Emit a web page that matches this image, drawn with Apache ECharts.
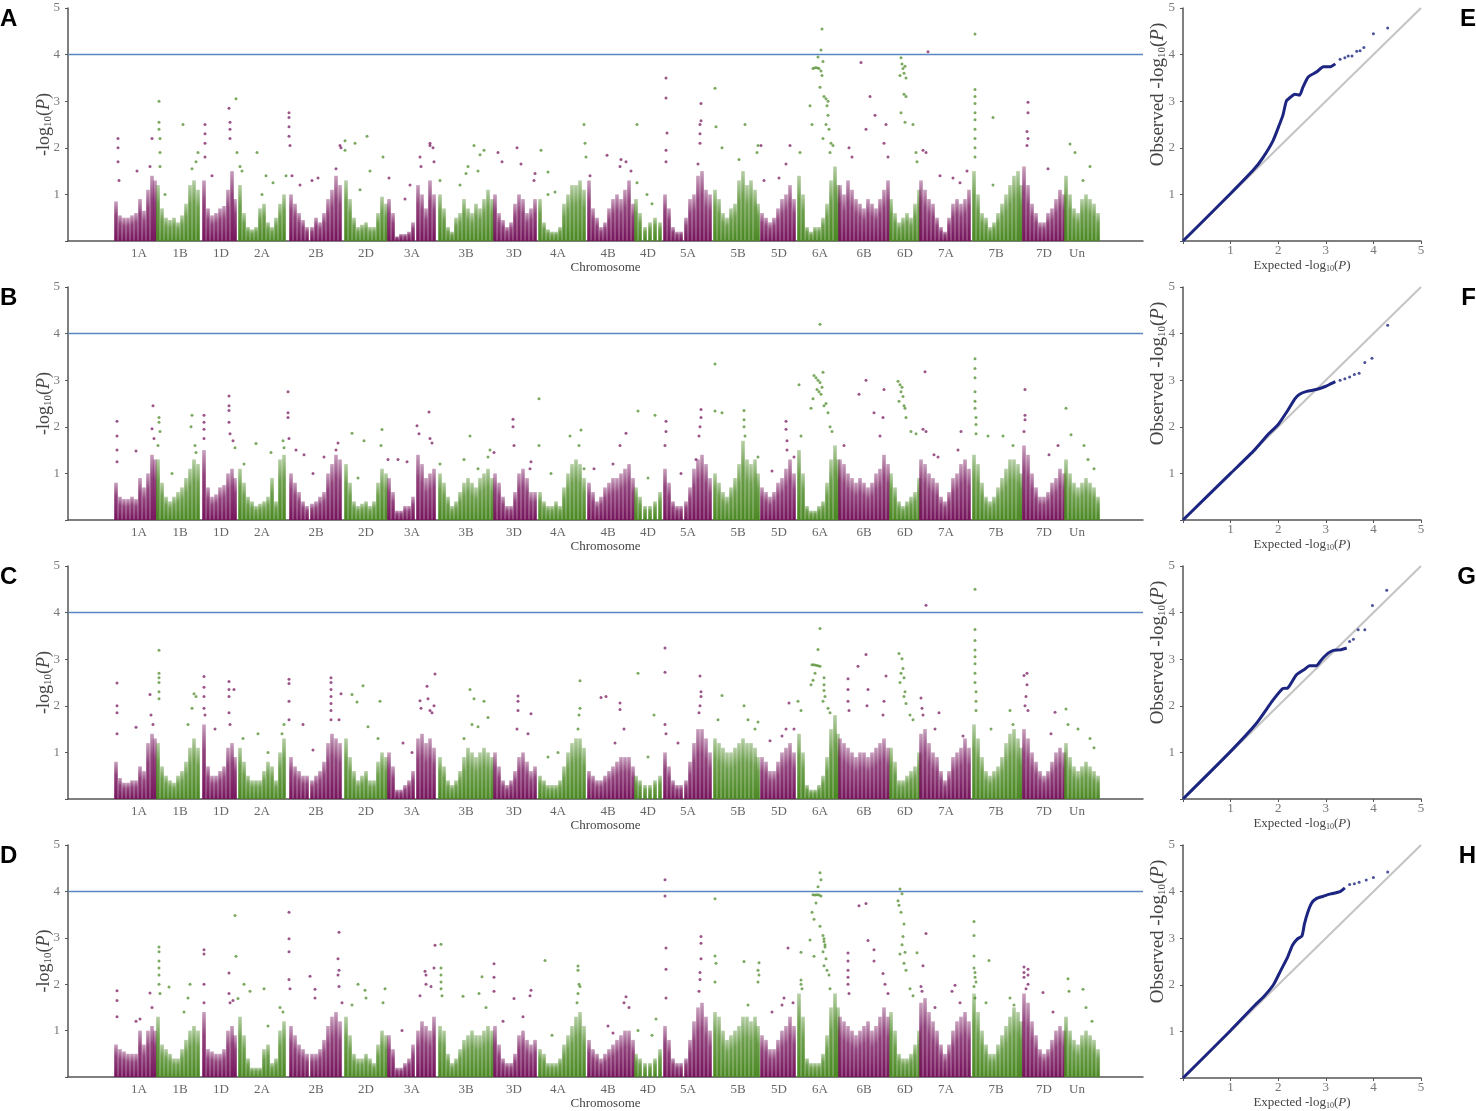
<!DOCTYPE html>
<html><head><meta charset="utf-8">
<script src="https://cdn.jsdelivr.net/npm/echarts@6/dist/echarts.min.js"></script>
<style>html,body{margin:0;padding:0;background:#fff}#c{width:1476px;height:1111px}</style>
</head><body><div id="c"></div>
<script>
// ---- chromosome axis ----
const chromLabels = ['1A','1B','1D','2A','2B','2D','3A','3B','3D','4A','4B','4D','5A','5B','5D','6A','6B','6D','7A','7B','7D','Un'];
const chromTickPos = [71,112,153,194,248,298,344,398,446,490,540,580,620,670,711,752,796,837,878,928,976,1009];
// start position of each coloured block (alternating purple / green)
const segStart = [46,87,132,167,220,275,319,369,425,469,519,567,595,645,692,729,770,822,852,905,955,997];
// centre positions of the dense-band bins in each block
const binX = [
 [48,52,56,60,64,68,72,76,80,84,87],
 [90,94,98,102,106,110,114,118,122,126,130],
 [136,140,144,148,152,156,160,164,167],
 [172,176,180,184,188,192,196,200,204,208,212,216],
 [223,227,231,235,239,244,248,252,256,260,264,268,272],
 [278,282,286,290,294,298,302,306,310,314,318],
 [321,325,329,333,337,341,345,350,354,358,362,366],
 [372,376,380,384,388,392,396,400,404,408,412,416,420,424],
 [427,431,435,439,443,447,451,455,459,463,467],
 [472,476,480,484,488,492,496,500,504,508,512,516],
 [521,525,529,533,537,541,545,549,553,557,561,565],
 [568,572,577,582,587,592],
 [597,601,605,609,613,618,622,626,630,634,638,642],
 [647,651,655,659,663,667,671,675,679,683,687,690],
 [694,698,702,706,710,714,718,722,726],
 [731,735,739,743,747,751,755,759,763,767,770],
 [772,776,780,784,788,792,796,800,804,808,812,816,820],
 [823,827,831,835,839,843,847,851],
 [853,857,861,865,869,873,877,881,885,889,893,897,901],
 [906,910,914,918,922,926,930,934,938,942,946,950,953],
 [956,960,964,968,972,976,980,984,988,992,996],
 [998,1002,1006,1010,1014,1018,1022,1026,1030]
];

// ---- panel A ----
const massA = [
 [0.85,0.55,0.5,0.5,0.55,0.6,0.9,0.65,1.1,1.4,1.3],
 [1.2,0.7,0.5,0.45,0.5,0.4,0.55,0.8,1.2,1.3,1.1],
 [1.3,0.7,0.55,0.6,0.7,0.75,1.1,1.5,0.9],
 [1.2,0.6,0.3,0.25,0.3,0.7,0.8,0.4,0.3,0.5,0.8,1.0],
 [1.0,0.8,0.6,0.45,0.3,0.3,0.5,0.4,0.6,0.9,1.1,1.4,1.2],
 [1.3,0.9,0.5,0.3,0.35,0.4,0.3,0.3,0.6,0.95,0.8],
 [0.9,0.6,0.1,0.15,0.15,0.2,0.4,1.2,1.0,0.7,1.3,1.0],
 [1.0,0.7,0.3,0.2,0.5,0.6,0.9,0.7,0.6,0.8,0.7,0.9,1.1,0.9],
 [1.0,0.6,0.45,0.3,0.4,0.8,1.0,0.9,0.6,0.7,0.9],
 [0.9,0.4,0.25,0.2,0.2,0.3,0.8,1.0,1.2,1.2,1.3,1.1],
 [1.3,0.7,0.5,0.3,0.4,0.7,0.9,1.0,0.9,1.1,1.3,0.8],
 [0.9,0.6,0.3,0.4,0.5,0.4],
 [1.0,0.7,0.3,0.2,0.2,0.5,0.9,1.0,1.4,1.5,1.1,1.0],
 [1.1,0.9,0.6,0.5,0.7,0.8,1.3,1.5,1.2,1.3,1.1,0.8],
 [0.6,0.5,0.4,0.5,0.7,0.9,1.0,1.2,0.9],
 [1.4,1.0,0.3,0.2,0.3,0.3,0.5,0.8,1.3,1.6,1.2],
 [1.2,1.0,1.3,1.1,0.9,0.8,0.7,0.9,0.8,0.7,0.9,1.1,1.3],
 [0.9,0.6,0.4,0.5,0.6,0.5,0.8,1.1],
 [1.3,1.1,0.9,0.8,0.5,0.3,0.2,0.5,0.8,0.9,0.8,0.9,1.1],
 [1.5,1.0,0.6,0.5,0.3,0.4,0.6,0.8,1.0,1.2,1.4,1.5,1.2],
 [1.6,1.2,0.8,0.6,0.4,0.4,0.6,0.7,0.9,1.1,1.0],
 [1.4,1.0,0.7,0.6,0.9,1.0,0.9,0.8,0.6]
];
const peaksA = [
 [50,2.2],[50,2.0],[50,1.7],[51,1.3],[69,1.5],[84,2.2],[82,1.6],
 [91,3.0],[91,2.55],[91,2.4],[92,2.2],[92,1.9],[92,1.6],[115,2.5],[130,1.9],[128,1.7],[124,1.55],[97,1.0],
 [137,2.5],[137,2.3],[137,2.1],[137,1.8],[162,2.55],[162,2.4],[162,2.2],[161,2.85],[168,3.05],[169,1.9],[144,1.4],
 [172,1.6],[174,1.5],[189,1.9],[198,1.4],[205,1.25],[194,1.0],[218,1.4],
 [221,2.75],[221,2.65],[221,2.45],[221,2.25],[222,2.05],[224,1.4],[232,1.2],[244,1.3],[250,1.35],[268,1.55],[272,2.05],[273,2.0],
 [277,2.15],[277,1.95],[287,2.1],[299,2.25],[302,1.5],[292,1.1],[315,1.8],
 [321,1.35],[352,1.8],[353,1.6],[362,2.1],[362,2.05],[365,2.0],[366,1.7],[342,1.2],[337,0.9],
 [372,1.3],[400,1.6],[398,1.45],[406,2.05],[412,1.85],[416,1.95],[410,1.5],[392,1.2],
 [430,1.9],[434,1.7],[449,2.0],[453,1.65],[466,1.3],[467,1.45],
 [473,1.95],[480,1.0],[487,1.05],[518,1.8],[516,2.5],[517,2.1],[480,1.48],
 [522,1.4],[539,1.84],[553,1.75],[552,1.6],[558,1.7],[563,1.5],
 [569,1.25],[569,2.5],[579,1.0],[584,0.8],
 [598,3.5],[598,3.07],[599,2.32],[598,1.95],[598,1.7],[633,2.95],[633,2.58],[632,2.5],[632,2.3],[632,2.1],[630,1.65],
 [647,3.28],[648,2.45],[654,2.0],[677,2.5],[671,1.75],[690,2.05],[689,1.9],
 [696,1.3],[718,1.65],[722,2.05],[711,1.35],[693,2.05],
 [732,1.9],[742,2.9],[744,2.5],[745,3.7],[747,3.72],[749,3.72],[751,3.7],[753,3.65],[754,3.55],[750,3.95],[753,4.1],[754,4.55],[755,3.85],[752,3.3],[756,3.1],[758,3.05],[760,3.0],[759,2.9],[760,2.7],[758,2.5],[761,2.4],[755,2.2],[763,2.1],[765,2.05],[762,1.9],
 [781,2.0],[784,1.8],[793,3.83],[802,3.1],[798,2.4],[807,2.7],[818,2.5],[816,2.1],[820,1.8],
 [833,3.93],[834,3.8],[835,3.7],[836,3.6],[837,3.75],[832,3.55],[838,3.5],[836,3.15],[838,3.1],[833,2.75],[837,2.55],[845,2.5],[848,1.9],[849,1.7],
 [860,4.06],[855,1.95],[858,1.9],[872,1.4],[885,1.35],[892,1.25],[899,1.5],
 [907,4.44],[907,3.25],[907,3.1],[907,2.95],[907,2.75],[907,2.6],[907,2.4],[907,2.2],[907,2.0],[907,1.8],[925,1.2],[925,2.65],
 [960,2.98],[960,2.75],[959,2.35],[960,2.2],[959,2.05],[980,1.55],
 [1002,2.08],[1007,1.9],[1022,1.6],[1015,1.3]
];

// ---- panel B ----
const massB = [
 [0.8,0.5,0.45,0.45,0.5,0.45,0.9,0.7,1.0,1.4,1.3],
 [1.3,0.8,0.5,0.4,0.5,0.6,0.7,0.9,1.1,1.3,1.2],
 [1.5,0.7,0.5,0.55,0.7,0.75,1.0,1.1,0.9],
 [1.1,0.8,0.5,0.4,0.3,0.35,0.4,0.5,0.9,0.4,1.3,1.4],
 [1.0,0.8,0.6,0.4,0.3,0.35,0.4,0.5,0.6,1.0,1.2,1.4,1.3],
 [1.2,0.8,0.4,0.3,0.35,0.4,0.3,0.4,0.8,1.1,1.0],
 [0.9,0.6,0.2,0.2,0.3,0.3,0.5,1.4,1.2,0.9,1.0,1.1],
 [1.0,0.8,0.5,0.3,0.4,0.6,0.8,0.9,0.8,0.7,0.9,1.0,1.1,0.9],
 [1.0,0.8,0.5,0.3,0.3,0.6,1.0,1.1,0.9,0.6,0.6],
 [0.6,0.4,0.3,0.3,0.4,0.3,0.7,1.0,1.2,1.3,1.2,0.9],
 [0.8,0.6,0.4,0.5,0.7,0.8,0.9,0.9,1.0,1.1,1.2,0.9],
 [0.7,0.5,0.3,0.3,0.4,0.6],
 [1.1,0.8,0.4,0.3,0.3,0.4,0.7,1.1,1.3,1.4,1.2,0.9],
 [1.0,0.8,0.6,0.5,0.7,0.9,1.2,1.7,1.3,1.2,1.3,1.0],
 [0.7,0.6,0.5,0.6,0.8,0.9,1.1,1.3,1.0],
 [1.5,1.0,0.3,0.2,0.2,0.3,0.4,0.8,1.3,1.6,1.3],
 [1.3,1.2,1.0,0.9,0.8,0.9,0.8,0.7,0.8,1.0,1.1,1.4,1.2],
 [1.0,0.7,0.4,0.3,0.4,0.5,0.6,0.9],
 [1.3,1.2,1.0,0.9,0.8,0.5,0.4,0.6,0.9,1.0,1.2,1.3,1.1],
 [1.4,1.2,0.8,0.5,0.4,0.5,0.7,0.9,1.1,1.3,1.3,1.2,1.0],
 [1.6,1.4,1.0,0.7,0.5,0.5,0.6,0.8,0.9,1.1,1.0],
 [1.3,1.0,0.8,0.7,0.8,0.9,0.8,0.7,0.5]
];
const peaksB = [
 [49,2.12],[49,1.8],[49,1.5],[49,1.25],[68,1.48],[85,2.45],[84,1.96],[86,1.75],
 [91,2.2],[91,2.1],[92,1.9],[90,1.6],[124,2.25],[123,2.0],[127,1.6],[128,1.45],[104,1.0],
 [136,2.25],[136,2.1],[136,1.95],[136,1.75],[161,2.66],[161,2.45],[161,2.35],[161,2.1],[162,1.85],[165,1.7],[167,1.55],
 [188,1.64],[203,1.45],[215,1.7],[216,1.55],[176,1.2],
 [220,2.75],[220,2.3],[220,2.2],[221,1.75],[228,1.5],[236,1.4],[245,1.0],[256,1.35],[270,1.65],[268,1.5],
 [284,1.86],[296,1.7],[314,1.94],[313,1.6],[290,0.9],
 [320,1.3],[330,1.3],[339,1.25],[349,2.02],[351,1.85],[361,2.32],[362,1.75],[364,1.65],
 [372,1.2],[402,1.8],[422,1.5],[420,1.35],[396,1.3],[410,1.1],
 [426,1.45],[445,2.16],[445,2.0],[446,1.6],[463,1.25],[462,1.1],
 [471,2.6],[471,1.6],[483,1.0],[502,1.8],[513,1.93],[511,1.6],[516,1.1],
 [558,1.86],[552,1.6],[526,1.1],[545,1.2],
 [570,2.34],[587,2.25],[580,0.9],
 [598,2.12],[598,1.9],[597,1.6],[633,2.37],[633,2.2],[632,2.0],[631,1.8],[613,1.0],[628,1.3],
 [647,3.35],[647,2.34],[654,2.3],[676,2.35],[676,2.15],[676,2.0],[677,1.8],[690,1.35],
 [718,2.12],[718,1.95],[719,1.7],[719,1.5],[704,1.05],[726,1.35],
 [752,4.2],[746,3.1],[748,3.05],[750,3.0],[752,2.95],[754,2.85],[749,2.8],[751,2.75],[753,2.7],[755,3.17],[745,2.6],[743,2.4],[756,2.45],[758,2.5],[760,2.3],[762,2.0],[764,1.9],[731,2.9],[733,1.8],
 [798,3.0],[791,2.7],[816,2.8],[806,2.3],[815,2.2],[812,1.8],[776,1.6],
 [830,2.98],[832,2.9],[834,2.85],[833,2.75],[835,2.65],[831,2.55],[836,2.45],[837,2.4],[838,2.2],[843,1.9],[848,1.85],
 [857,3.18],[855,1.95],[858,1.9],[866,1.4],[870,1.35],[893,1.9],[890,1.5],
 [907,3.46],[907,3.25],[907,3.05],[907,2.75],[907,2.55],[907,2.4],[908,2.2],[908,2.05],[908,1.85],[920,1.8],[935,1.8],[945,1.6],
 [957,2.8],[957,2.25],[957,2.15],[956,1.9],[981,1.4],[990,1.6],
 [998,2.4],[1003,1.83],[1016,1.6],[1020,1.3],[1026,1.1]
];

// ---- panel C ----
const massC = [
 [0.8,0.45,0.35,0.35,0.4,0.4,0.7,0.6,1.2,1.4,1.3],
 [1.2,0.7,0.5,0.4,0.35,0.5,0.6,0.8,1.1,1.3,1.1],
 [1.6,0.7,0.5,0.5,0.6,0.7,1.1,1.2,0.9],
 [1.1,0.8,0.5,0.4,0.4,0.4,0.6,0.8,0.7,0.4,1.0,1.3],
 [0.9,0.7,0.6,0.5,0.5,0.4,0.5,0.6,0.8,1.2,1.4,1.3,1.2],
 [1.3,0.9,0.6,0.4,0.5,0.6,0.4,0.4,0.8,1.0,0.9],
 [1.0,0.7,0.2,0.2,0.3,0.4,0.6,1.3,1.4,1.2,1.3,1.1],
 [0.9,0.7,0.4,0.3,0.4,0.6,0.9,1.1,1.0,0.9,1.0,1.1,1.0,0.9],
 [1.0,0.7,0.4,0.3,0.4,0.6,0.9,1.0,0.8,0.6,0.7],
 [0.5,0.4,0.3,0.3,0.3,0.4,0.7,1.0,1.2,1.3,1.3,1.1],
 [0.6,0.5,0.4,0.4,0.5,0.6,0.7,0.8,0.9,0.9,0.9,0.7],
 [0.5,0.4,0.3,0.3,0.4,0.5],
 [1.0,0.7,0.4,0.3,0.3,0.4,0.8,1.2,1.5,1.5,1.3,1.0],
 [1.3,1.2,1.1,1.0,1.0,1.1,1.2,1.3,1.2,1.2,1.1,0.9],
 [0.9,0.8,0.6,0.6,0.8,1.0,1.1,1.2,1.0],
 [1.4,1.0,0.3,0.2,0.2,0.3,0.5,0.9,1.5,1.8,1.4],
 [1.3,1.2,1.1,1.0,0.9,1.0,1.0,0.9,1.0,1.1,1.2,1.3,1.1],
 [1.1,0.8,0.4,0.4,0.5,0.6,0.7,1.0],
 [1.4,1.5,1.2,1.0,0.9,0.6,0.4,0.6,0.9,1.0,1.1,1.3,1.1],
 [1.6,1.3,0.9,0.6,0.5,0.6,0.7,0.9,1.2,1.4,1.5,1.3,1.1],
 [1.5,1.3,1.0,0.8,0.6,0.5,0.6,0.8,1.0,1.1,1.0],
 [1.2,0.9,0.7,0.6,0.7,0.8,0.7,0.6,0.5]
];
const peaksC = [
 [49,2.49],[49,2.0],[49,1.85],[49,1.4],[68,1.54],[82,2.24],[83,1.8],[85,1.6],
 [91,3.19],[91,2.7],[91,2.6],[91,2.5],[91,2.3],[91,2.15],[126,2.26],[128,2.2],[124,1.95],[120,1.6],
 [136,2.63],[136,2.4],[136,2.2],[136,1.95],[137,1.8],[161,2.52],[161,2.35],[161,2.2],[161,1.85],[162,1.6],[166,2.35],[147,1.5],
 [190,1.4],[200,1.0],[175,1.3],[216,1.6],[214,1.4],
 [221,2.57],[221,2.48],[221,2.1],[221,1.7],[235,1.6],[245,1.05],[263,2.6],[263,2.5],[263,2.35],[263,2.2],[263,2.05],[263,1.9],[263,1.7],[271,1.7],[273,2.26],
 [284,2.24],[289,2.08],[295,2.43],[312,2.1],[310,1.3],[300,1.55],
 [344,1.0],[352,2.11],[353,1.95],[359,2.42],[360,2.15],[362,1.9],[364,1.85],[367,2.68],[366,2.0],[335,1.2],
 [402,2.35],[406,2.15],[404,1.6],[416,2.1],[420,1.75],[410,1.55],[396,1.3],
 [450,2.21],[450,2.1],[450,1.9],[449,1.5],[463,1.83],[460,1.4],
 [512,2.54],[512,1.95],[511,1.8],[510,1.5],[480,0.9],[490,1.0],
 [533,2.18],[538,2.2],[552,2.06],[552,1.92],[556,1.5],[547,1.2],
 [570,2.7],[586,1.8],[580,0.9],
 [597,3.24],[597,2.72],[597,1.6],[598,1.4],[632,2.64],[633,2.3],[633,2.2],[632,2.0],[631,1.85],[610,1.2],
 [654,2.22],[650,1.7],[676,2.0],[680,1.7],[687,1.5],[690,1.65],
 [721,2.06],[718,1.5],[714,1.35],[702,1.25],[726,1.5],
 [752,3.66],[750,3.21],[744,2.88],[746,2.88],[748,2.87],[750,2.86],[752,2.85],[747,2.7],[745,2.55],[743,2.45],[756,2.6],[756,2.45],[756,2.33],[757,2.2],[755,2.1],[760,1.95],[762,1.85],[733,1.9],[730,2.1],
 [780,2.58],[780,2.35],[780,2.1],[781,1.9],[790,2.85],[798,3.1],[800,2.35],[799,2.0],[818,2.64],[816,2.1],[815,1.8],
 [831,3.12],[834,3.01],[835,2.8],[833,2.7],[836,2.6],[832,2.5],[837,2.3],[836,2.2],[838,2.05],[842,1.8],[845,1.7],
 [858,4.16],[853,2.17],[854,1.95],[855,1.8],[867,1.5],[871,1.85],[895,1.35],
 [907,4.5],[907,3.64],[907,3.4],[907,3.2],[907,3.05],[907,2.9],[907,2.7],[907,2.5],[908,2.3],[908,2.1],[908,1.9],[923,1.5],[942,1.9],[945,1.6],
 [956,2.65],[959,2.7],[959,2.45],[958,2.2],[957,2.0],[960,1.9],[987,1.86],[983,1.4],
 [998,1.93],[1000,1.6],[1010,1.5],[1022,1.3],[1026,1.1]
];

// ---- panel D ----
const massD = [
 [0.7,0.6,0.55,0.5,0.5,0.5,1.0,0.7,1.0,1.1,1.0],
 [1.3,0.7,0.6,0.5,0.4,0.4,0.6,0.8,1.0,1.1,1.0],
 [1.4,0.6,0.55,0.5,0.5,0.6,1.0,1.1,0.9],
 [1.3,0.9,0.4,0.2,0.2,0.2,0.6,0.7,0.3,0.4,1.0,1.2],
 [1.1,0.9,0.7,0.6,0.5,0.5,0.5,0.6,0.8,1.1,1.3,1.4,1.2],
 [1.3,0.9,0.5,0.4,0.4,0.5,0.4,0.3,0.7,1.0,0.9],
 [0.9,0.6,0.2,0.2,0.3,0.4,0.7,1.0,1.2,1.1,1.0,1.3],
 [1.1,1.0,0.5,0.3,0.4,0.6,0.8,0.9,1.0,0.9,0.9,1.0,1.1,1.0],
 [1.1,0.7,0.4,0.3,0.3,0.5,0.9,1.0,0.8,0.7,0.8],
 [0.6,0.5,0.3,0.3,0.3,0.4,0.7,0.9,1.1,1.3,1.4,1.1],
 [0.8,0.6,0.5,0.4,0.5,0.6,0.7,0.8,0.9,1.0,1.0,0.8],
 [0.5,0.4,0.3,0.3,0.4,0.6],
 [1.1,0.8,0.4,0.3,0.3,0.4,0.8,1.2,1.5,1.6,1.3,1.0],
 [1.4,1.3,1.0,0.8,0.9,1.0,1.1,1.3,1.3,1.2,1.3,1.1],
 [0.9,0.8,0.6,0.6,0.8,1.0,1.1,1.3,1.1],
 [1.8,1.3,0.4,0.3,0.3,0.3,0.5,0.9,1.5,1.8,1.5],
 [1.3,1.2,1.1,1.0,0.9,1.0,1.1,1.2,1.0,1.1,1.3,1.5,1.3],
 [1.4,1.0,0.5,0.4,0.4,0.5,0.7,1.0],
 [1.6,1.7,1.4,1.2,1.0,0.7,0.5,0.7,1.0,1.2,1.3,1.4,1.2],
 [1.8,1.4,1.0,0.7,0.5,0.5,0.7,0.9,1.1,1.3,1.5,1.4,1.2],
 [1.8,1.6,1.2,0.9,0.6,0.5,0.6,0.8,1.0,1.1,1.0],
 [1.3,1.0,0.8,0.7,0.9,1.0,0.9,0.8,0.6]
];
const peaksD = [
 [49,1.86],[49,1.65],[49,1.3],[68,1.2],[72,1.25],[82,1.81],[84,1.5],
 [91,2.8],[91,2.7],[91,2.5],[91,2.35],[91,2.2],[91,2.0],[92,1.8],[101,1.94],[122,2.0],[120,1.7],[116,1.4],
 [136,2.74],[136,2.65],[136,2.0],[136,1.6],[161,2.24],[161,1.8],[162,1.6],[167,3.48],[168,2.6],[165,1.65],
 [170,1.69],[176,2.0],[182,1.85],[196,1.9],[200,1.1],[212,1.5],[215,1.4],
 [221,3.55],[221,2.98],[221,2.7],[221,2.1],[222,1.9],[242,2.17],[247,1.89],[247,1.7],[271,3.12],[270,2.55],[271,2.3],[270,2.2],[271,1.95],[274,1.6],
 [290,2.0],[297,1.87],[298,1.7],[284,1.55],[317,1.9],[315,1.6],
 [357,2.28],[358,2.2],[358,2.0],[363,1.95],[366,2.35],[367,2.84],[352,1.75],[334,1.0],
 [373,2.86],[373,2.35],[373,2.2],[373,2.05],[373,1.9],[374,1.75],[395,1.74],[411,1.8],[414,2.16],[418,1.5],[426,2.44],[426,2.15],[426,1.85],
 [446,1.69],[463,1.87],[462,1.75],[455,1.3],[435,1.2],
 [477,2.51],[510,2.39],[510,2.3],[511,2.0],[512,1.95],[510,1.8],[509,1.6],[484,0.9],
 [558,1.73],[556,1.6],[561,1.5],[540,1.1],[545,0.95],
 [570,1.0],[584,0.9],[588,1.25],
 [597,4.25],[597,3.9],[598,2.78],[598,2.32],[598,1.7],[633,3.03],[633,2.88],[633,2.55],[632,2.25],[632,2.1],[631,1.85],
 [647,3.84],[647,2.61],[648,2.45],[647,2.05],[676,2.49],[691,2.46],[690,2.3],[691,2.2],[690,2.05],[680,1.55],
 [720,2.78],[716,1.7],[714,1.55],[725,1.6],[704,1.4],
 [733,2.69],[733,2.09],[733,2.0],[734,1.9],[752,4.4],[753,4.25],[750,4.1],[745,3.93],[747,3.92],[749,3.93],[751,3.92],[753,3.9],[748,3.75],[744,3.55],[746,3.4],[752,3.25],[755,3.05],[756,2.98],[756,2.92],[757,2.85],[757,2.8],[755,2.7],[758,2.55],[756,2.4],[759,2.3],[761,2.2],[762,1.9],[742,2.95],[746,2.6],
 [780,2.67],[780,2.5],[780,2.3],[780,2.15],[780,2.0],[781,1.8],[791,3.69],[798,3.74],[800,2.94],[806,2.74],[806,2.5],[815,2.23],[817,2.0],[820,1.8],
 [832,4.05],[834,3.95],[830,3.8],[831,3.7],[833,3.55],[836,3.3],[835,3.03],[834,2.85],[837,2.69],[832,2.65],[836,2.45],[838,2.3],[849,2.68],[842,1.9],[845,1.75],
 [858,3.09],[855,2.4],[853,1.95],[854,1.85],[867,1.5],[887,1.98],[884,1.85],[892,1.6],
 [906,3.35],[906,3.05],[906,2.61],[906,2.35],[907,2.25],[907,2.15],[908,2.05],[906,1.95],[907,1.7],[921,2.51],[918,1.6],[942,1.7],[946,1.55],
 [956,2.37],[956,2.25],[956,2.15],[960,2.32],[960,2.2],[960,2.0],[958,1.9],[975,1.82],[985,1.4],
 [1000,2.12],[1001,1.85],[1015,1.89],[1018,1.5],[1024,1.2]
];

// ---- QQ plots: [expected, observed] ----
const qqDiag = [[0,0],[5,5]];
const qqLineE = [[0,0],[1,1.02],[1.5,1.55],[1.68,1.79],[1.89,2.15],[2.03,2.51],[2.1,2.7],[2.17,3.0],[2.25,3.08],[2.35,3.15],[2.45,3.13],[2.52,3.3],[2.63,3.52],[2.81,3.63],[2.95,3.74],[3.1,3.74],[3.2,3.8]];
const qqDotsE = [[3.3,3.9],[3.4,3.93],[3.47,3.97],[3.55,3.97],[3.65,4.07],[3.72,4.08],[3.8,4.15],[4.0,4.45],[4.3,4.57]];
const qqLineF = [[0,0],[1,1.0],[1.5,1.5],[1.8,1.85],[2.0,2.05],[2.2,2.35],[2.35,2.6],[2.45,2.7],[2.6,2.76],[2.8,2.8],[3.0,2.87],[3.1,2.92],[3.2,2.97]];
const qqDotsF = [[3.3,3.0],[3.4,3.03],[3.5,3.07],[3.6,3.12],[3.7,3.15],[3.82,3.38],[3.97,3.47],[4.3,4.18]];
const qqLineG = [[0,0],[0.98,1.0],[1.54,1.62],[1.89,2.12],[2.1,2.37],[2.2,2.38],[2.38,2.66],[2.55,2.78],[2.66,2.86],[2.8,2.86],[2.91,2.99],[3.05,3.13],[3.16,3.19],[3.3,3.2],[3.44,3.24]];
const qqDotsG = [[3.5,3.38],[3.58,3.43],[3.68,3.63],[3.82,3.63],[3.98,4.15],[4.28,4.48]];
const qqLineH = [[0,0],[1,1.02],[1.5,1.55],[1.7,1.75],[1.9,2.0],[2.05,2.3],[2.2,2.6],[2.3,2.85],[2.4,2.98],[2.5,3.05],[2.55,3.3],[2.62,3.55],[2.7,3.75],[2.8,3.85],[2.95,3.9],[3.1,3.95],[3.3,4.0],[3.4,4.08]];
const qqDotsH = [[3.5,4.15],[3.6,4.17],[3.7,4.2],[3.85,4.25],[4.0,4.3],[4.3,4.42]];

const threshold = 4;
const leftLetters = ['A','B','C','D'];
const rightLetters = ['E','F','G','H'];

// ---------------- build ----------------
const PURPLE = [118,20,92];
const GREEN = [74,136,34];
const rgba = (c,a)=>`rgba(${c[0]},${c[1]},${c[2]},${a})`;
const SERIF = '"Liberation Serif","Times New Roman",serif';
const rowTop = [8,287,566,845];
const gridH = 233;

function segOf(x){ let s=0; for(let i=0;i<segStart.length;i++){ if(x>=segStart[i]) s=i; } return s; }
function grad(c){
  return new echarts.graphic.LinearGradient(0,0,0,1,[
    {offset:0,color:rgba(c,0.4)},{offset:0.35,color:rgba(c,0.8)},{offset:1,color:rgba(c,1)}]);
}
const gradP = grad(PURPLE), gradG = grad(GREEN);

const panels = [[massA,peaksA],[massB,peaksB],[massC,peaksC],[massD,peaksD]];
const qq = [[qqLineE,qqDotsE],[qqLineF,qqDotsF],[qqLineG,qqDotsG],[qqLineH,qqDotsH]];

const logName = (pre)=> pre + '-log{s|10}({i|P})';
const mkRich = (fs)=>({s:{fontSize:Math.round(fs*0.6),fontFamily:SERIF,color:'#444',padding:[Math.round(fs*0.45),0,0,0]},i:{fontSize:fs,fontFamily:SERIF,fontStyle:'italic',color:'#444'}});

const grids=[], xAxes=[], yAxes=[], series=[], graphics=[];
const axisLine = {show:true,lineStyle:{color:'#555',width:1.5}};
const tickLabel = {color:'#777',fontFamily:SERIF,fontSize:13,formatter:v=>v===0?'':String(v)};

panels.forEach((pd,p)=>{
  const g = grids.length;
  grids.push({left:68,top:rowTop[p],width:1075,height:gridH});
  xAxes.push({gridIndex:g,type:'value',min:0,max:1075,axisLine:axisLine,axisTick:{show:false},splitLine:{show:false},
    axisLabel:{customValues:chromTickPos,color:'#666',fontFamily:SERIF,fontSize:13,margin:6,
      formatter:v=>{let b=0,d=1e9;chromTickPos.forEach((t,i)=>{if(Math.abs(t-v)<d){d=Math.abs(t-v);b=i;}});return chromLabels[b];}},
    name:'Chromosome',nameLocation:'middle',nameGap:20,nameMoveOverlap:false,nameTextStyle:{color:'#444',fontFamily:SERIF,fontSize:13}});
  yAxes.push({gridIndex:g,type:'value',min:0,max:5,interval:1,axisLine:axisLine,axisTick:{show:true,length:3,lineStyle:{color:'#555'}},
    splitLine:{show:false},axisLabel:tickLabel,
    name:logName(''),nameLocation:'middle',nameGap:14,nameMoveOverlap:false,nameTextStyle:{color:'#444',fontFamily:SERIF,fontSize:18,rich:mkRich(18)}});
  const bars=[];
  pd[0].forEach((hs,s)=>hs.forEach((h,i)=>{const x=binX[s][i]; if(x!==undefined) bars.push({value:[x,h],itemStyle:{color:s%2===0?gradP:gradG}});}));
  const pts=[[],[]];
  pd[1].forEach(pt=>pts[segOf(pt[0])%2].push(pt));
  series.push({type:'bar',xAxisIndex:g,yAxisIndex:g,barWidth:3.6,data:bars,silent:true,animation:false,z:2});
  series.push({type:'scatter',xAxisIndex:g,yAxisIndex:g,symbolSize:3,data:pts[0],itemStyle:{color:rgba(PURPLE,0.9)},silent:true,animation:false,z:3,
    markLine:{silent:true,symbol:'none',label:{show:false},lineStyle:{color:'#5b86bf',width:1.3,type:'solid'},data:[{yAxis:threshold}],animation:false}});
  series.push({type:'scatter',xAxisIndex:g,yAxisIndex:g,symbolSize:3,data:pts[1],itemStyle:{color:rgba(GREEN,0.9)},silent:true,animation:false,z:3});
  graphics.push({type:'text',left:0,top:rowTop[p]-1,style:{text:leftLetters[p],font:'bold 24px "Liberation Sans",Arial,sans-serif',fill:'#000'}});
});

qq.forEach((qd,p)=>{
  const g = grids.length;
  grids.push({left:1183,top:rowTop[p],width:238,height:gridH});
  xAxes.push({gridIndex:g,type:'value',min:0,max:5,interval:1,axisLine:axisLine,axisTick:{show:true,length:3,lineStyle:{color:'#555'}},splitLine:{show:false},
    axisLabel:Object.assign({},tickLabel,{margin:3}),
    name:logName('Expected '),nameLocation:'middle',nameGap:18,nameMoveOverlap:false,nameTextStyle:{color:'#444',fontFamily:SERIF,fontSize:13,rich:mkRich(13)}});
  yAxes.push({gridIndex:g,type:'value',min:0,max:5,interval:1,axisLine:axisLine,axisTick:{show:true,length:3,lineStyle:{color:'#555'}},splitLine:{show:false},
    axisLabel:tickLabel,
    name:logName('Observed '),nameLocation:'middle',nameGap:15,nameMoveOverlap:false,nameTextStyle:{color:'#444',fontFamily:SERIF,fontSize:19,rich:mkRich(19),padding:[0,0,0,60]}});
  series.push({type:'line',xAxisIndex:g,yAxisIndex:g,data:qqDiag,showSymbol:false,lineStyle:{color:'#c4c4c4',width:2},silent:true,animation:false,z:2});
  series.push({type:'line',xAxisIndex:g,yAxisIndex:g,data:qd[0],showSymbol:false,smooth:0.2,lineStyle:{color:'#1c2580',width:3},silent:true,animation:false,z:3});
  series.push({type:'scatter',xAxisIndex:g,yAxisIndex:g,data:qd[1],symbolSize:3,itemStyle:{color:'#1c2580'},silent:true,animation:false,z:3});
  graphics.push({type:'text',right:0,top:rowTop[p]-1,style:{text:rightLetters[p],font:'bold 24px "Liberation Sans",Arial,sans-serif',fill:'#000'}});
});

const chart = echarts.init(document.getElementById('c'),null,{renderer:'canvas'});
chart.setOption({backgroundColor:'#fff',animation:false,grid:grids,xAxis:xAxes,yAxis:yAxes,series:series,graphic:graphics});
</script></body></html>
